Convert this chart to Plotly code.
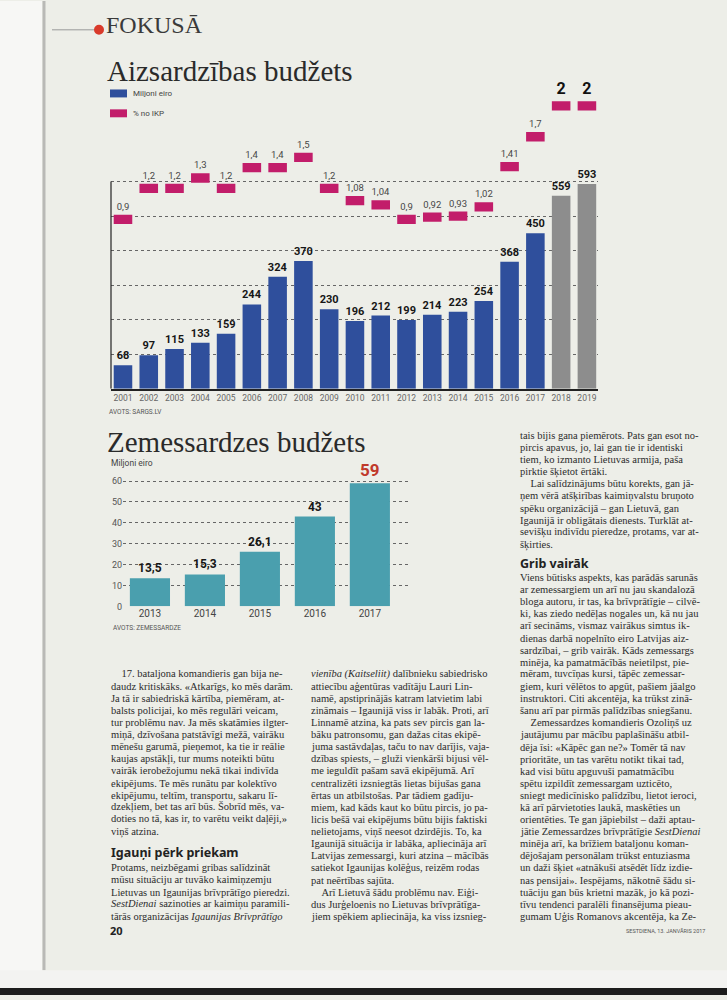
import plotly.graph_objects as go

# ---------------- data ----------------
years = ["2001", "2002", "2003", "2004", "2005", "2006", "2007", "2008", "2009", "2010",
         "2011", "2012", "2013", "2014", "2015", "2016", "2017", "2018", "2019"]
budget_meur = [68, 97, 115, 133, 159, 244, 324, 370, 230, 196, 212, 199, 214, 223, 254, 368, 450, 559, 593]
gdp_pct = [0.9, 1.2, 1.2, 1.3, 1.2, 1.4, 1.4, 1.5, 1.2, 1.08, 1.04, 0.9, 0.92, 0.93, 1.02, 1.41, 1.7, 2, 2]
planned_years = ["2018", "2019"]

zs_years = ["2013", "2014", "2015", "2016", "2017"]
zs_budget = [13.5, 15.3, 26.1, 43, 59]

W, H = 727, 1000


def px(x):
    return x / W


def py(y):
    return 1 - y / H


def lv(v):
    return f"{v:g}".replace(".", ",")


BLUE = "#2f4f9c"
GREY = "#8d8d8d"
PINK = "#c21d6a"
TEAL = "#4a9fae"
PAGE = "#edeee8"

fig = go.Figure()

# --- top chart: budget bars ---
fig.add_trace(go.Bar(
    x=years, y=budget_meur, width=0.72,
    marker=dict(color=[GREY if y in planned_years else BLUE for y in years], line=dict(width=0)),
    text=[str(v) for v in budget_meur], textposition="outside", constraintext="none",
    outsidetextfont=dict(family="Roboto", size=11, color="#161616", weight="bold"),
    cliponaxis=False, xaxis="x", yaxis="y", showlegend=False, hoverinfo="x+y",
))

# --- top chart: % of GDP markers (small rectangles centred on the value) ---
mh = 0.09
fig.add_trace(go.Bar(
    x=years, y=[mh] * len(gdp_pct), base=[v - mh / 2 for v in gdp_pct], width=0.72,
    marker=dict(color=PINK, line=dict(width=0)),
    text=[lv(v) for v in gdp_pct], textposition="outside", constraintext="none",
    outsidetextfont=dict(family="Roboto",
                         size=[16 if v >= 2 else 9.5 for v in gdp_pct],
                         color=["#111" if v >= 2 else "#474747" for v in gdp_pct],
                         weight=["bold" if v >= 2 else "normal" for v in gdp_pct]),
    cliponaxis=False, xaxis="x", yaxis="y2", showlegend=False,
    customdata=gdp_pct, hovertemplate="%{x}: %{customdata}%<extra></extra>",
))

# --- bottom chart ---
fig.add_trace(go.Bar(
    x=zs_years, y=zs_budget, width=0.73,
    marker=dict(color=TEAL, line=dict(width=0)),
    text=[lv(v) for v in zs_budget], textposition="outside", constraintext="none",
    outsidetextfont=dict(family="Roboto",
                         size=[12, 12, 12, 12, 17],
                         color=["#161616"] * 4 + ["#c0392b"], weight="bold"),
    cliponaxis=False, xaxis="x2", yaxis="y3", showlegend=False,
))

top_x0, top_x1 = 111, 598
fig.update_layout(
    width=W, height=H,
    margin=dict(l=0, r=0, t=0, b=0),
    paper_bgcolor=PAGE, plot_bgcolor="rgba(0,0,0,0)",
    barmode="overlay",
    xaxis=dict(domain=[px(top_x0), px(top_x1)], type="category", range=[-0.465, 18.43],
               showline=True, linecolor="#222", linewidth=1.5, ticks="", showgrid=False,
               tickfont=dict(family="Roboto", size=8.5, color="#666"),
               anchor="y", fixedrange=True),
    yaxis=dict(domain=[py(390), py(80)], range=[0, 600 * 310 / 208.3],
               tickvals=[100, 200, 300, 400, 500, 600], showticklabels=False,
               showgrid=True, gridcolor="#666", griddash="dot", gridwidth=1,
               zeroline=False, showline=False, fixedrange=True),
    yaxis2=dict(overlaying="y", range=[-0.742, 2.245], visible=False, fixedrange=True),
    xaxis2=dict(domain=[px(123), px(410)], type="category", range=[-0.49, 4.73],
                showline=False, ticks="", showgrid=False, anchor="y3",
                tickfont=dict(family="Roboto", size=10, color="#444"), fixedrange=True),
    yaxis3=dict(domain=[py(609), py(478.8)], range=[0, 62], anchor="x2",
                tickvals=[0, 10, 20, 30, 40, 50, 60], ticks="",
                tickfont=dict(family="Roboto", size=9, color="#555"),
                showgrid=True, gridcolor="#666", griddash="dot", gridwidth=1,
                zeroline=False, showline=False, fixedrange=True),
    font=dict(family="Roboto"),
)

shapes = []
# page edge on the left
shapes.append(dict(type="rect", xref="paper", yref="paper", x0=0, x1=px(42), y0=0, y1=1,
                   fillcolor="#f7f7f5", line=dict(width=0), layer="below"))
shapes.append(dict(type="line", xref="paper", yref="paper", x0=px(44), x1=px(44), y0=py(975), y1=1,
                   line=dict(color="#b9b9b6", width=3), layer="below"))
# bottom of scan
shapes.append(dict(type="rect", xref="paper", yref="paper", x0=0, x1=1, y0=0, y1=py(975),
                   fillcolor="#f3f3f1", line=dict(width=0), layer="below"))
shapes.append(dict(type="rect", xref="paper", yref="paper", x0=0, x1=1, y0=0, y1=py(993),
                   fillcolor="#1c1c1c", line=dict(width=0), layer="below"))
# header line + red dot
shapes.append(dict(type="line", xref="paper", yref="paper", x0=px(52), x1=px(95), y0=py(29), y1=py(29),
                   line=dict(color="#9a9a9a", width=1)))
shapes.append(dict(type="circle", xref="paper", yref="paper", x0=px(94), x1=px(104), y0=py(34), y1=py(24),
                   fillcolor="#d93a2b", line=dict(width=0)))
# top chart vertical axis line (0 .. 600)
shapes.append(dict(type="line", xref="paper", yref="y", x0=px(top_x0), x1=px(top_x0), y0=0, y1=600,
                   line=dict(color="#222", width=1.2)))
# legend swatches
shapes.append(dict(type="rect", xref="paper", yref="paper", x0=px(110), x1=px(127), y0=py(97), y1=py(89),
                   fillcolor=BLUE, line=dict(width=0)))
shapes.append(dict(type="rect", xref="paper", yref="paper", x0=px(110), x1=px(127), y0=py(117), y1=py(109),
                   fillcolor=PINK, line=dict(width=0)))
fig.update_layout(shapes=shapes)

ann = []


def text(x, y, s, size, color="#333", family="Roboto", xanchor="left", weight="normal"):
    ann.append(dict(xref="paper", yref="paper", x=px(x), y=py(y), text=s, showarrow=False,
                    xanchor=xanchor, yanchor="middle", align="left", borderpad=0,
                    font=dict(family=family, size=size, color=color, weight=weight)))


text(105, 24, "FOKUSĀ", 24, "#3a3a3a", "Liberation Serif")
text(106, 70, "Aizsardzības budžets", 29, "#2a2a2a", "Liberation Serif")
text(132, 93, "Miljoni eiro", 8, "#444")
text(132, 113, "% no IKP", 8, "#444")
text(108, 413, "AVOTS: SARGS.LV", 6.5, "#555")
text(106, 444, "Zemessardzes budžets", 29, "#2a2a2a", "Liberation Serif")
text(110, 465, "Miljoni eiro", 8.5, "#444")
text(112, 631, "AVOTS: ZEMESSARDZE", 6.5, "#555")

# ---------------- article text ----------------
col_left = [
    "    17. bataljona komandieris gan bija ne-",
    "daudz kritiskāks. «Atkarīgs, ko mēs darām.",
    "Ja tā ir sabiedriskā kārtība, piemēram, at-",
    "balsts policijai, ko mēs regulāri veicam,",
    "tur problēmu nav. Ja mēs skatāmies ilgter-",
    "miņā, dzīvošana patstāvīgi mežā, vairāku",
    "mēnešu garumā, pieņemot, ka tie ir reālie",
    "kaujas apstākļi, tur mums noteikti būtu",
    "vairāk ierobežojumu nekā tikai indivīda",
    "ekipējums. Te mēs runātu par kolektīvo",
    "ekipējumu, teltīm, transportu, sakaru lī-",
    "dzekļiem, bet tas arī būs. Šobrīd mēs, va-",
    "doties no tā, kas ir, to varētu veikt daļēji,»",
    "viņš atzina.",
]
col_left2 = [
    "Protams, neizbēgami gribas salīdzināt",
    "mūsu situāciju ar tuvāko kaimiņzemju",
    "Lietuvas un Igaunijas brīvprātīgo pieredzi.",
    "<i>SestDienai</i> sazinoties ar kaimiņu paramili-",
    "tārās organizācijas <i>Igaunijas Brīvprātīgo</i>",
]
col_mid = [
    "<i>vienība (Kaitseliit)</i> dalībnieku sabiedrisko",
    "attiecību aģentūras vadītāju Lauri Lin-",
    "namē, apstiprinājās katram latvietim labi",
    "zināmais – Igaunijā viss ir labāk. Proti, arī",
    "Linnamē atzina, ka pats sev pircis gan la-",
    "bāku patronsomu, gan dažas citas ekipē-",
    "juma sastāvdaļas, taču to nav darījis, vaja-",
    "dzības spiests, – gluži vienkārši bijusi vēl-",
    "me ieguldīt pašam savā ekipējumā. Arī",
    "centralizēti izsniegtās lietas bijušas gana",
    "ērtas un atbilstošas. Par tādiem gadīju-",
    "miem, kad kāds kaut ko būtu pircis, jo pa-",
    "licis bešā vai ekipējums būtu bijis faktiski",
    "nelietojams, viņš neesot dzirdējis. To, ka",
    "Igaunijā situācija ir labāka, apliecināja arī",
    "Latvijas zemessargi, kuri atzina – mācībās",
    "satiekot Igaunijas kolēģus, reizēm rodas",
    "pat neērtības sajūta.",
    "    Arī Lietuvā šādu problēmu nav. Eiģi-",
    "dus Jurģeloenis no Lietuvas brīvprātīga-",
    "jiem spēkiem apliecināja, ka viss izsnieg-",
]
col_right = [
    "tais bijis gana piemērots. Pats gan esot no-",
    "pircis apavus, jo, lai gan tie ir identiski",
    "tiem, ko izmanto Lietuvas armija, paša",
    "pirktie šķietot ērtāki.",
    "    Lai salīdzinājums būtu korekts, gan jā-",
    "ņem vērā atšķirības kaimiņvalstu bruņoto",
    "spēku organizācijā – gan Lietuvā, gan",
    "Igaunijā ir obligātais dienests. Turklāt at-",
    "sevišķu indivīdu pieredze, protams, var at-",
    "šķirties.",
]
col_right2 = [
    "Viens būtisks aspekts, kas parādās sarunās",
    "ar zemessargiem un arī nu jau skandalozā",
    "bloga autoru, ir tas, ka brīvprātīgie – cilvē-",
    "ki, kas ziedo nedēļas nogales un, kā nu jau",
    "arī secināms, vismaz vairākus simtus ik-",
    "dienas darbā nopelnīto eiro Latvijas aiz-",
    "sardzībai, – grib vairāk. Kāds zemessargs",
    "minēja, ka pamatmācībās neietilpst, pie-",
    "mēram, tuvcīņas kursi, tāpēc zemessar-",
    "giem, kuri vēlētos to apgūt, pašiem jāalgo",
    "instruktori. Citi akcentēja, ka trūkst zinā-",
    "šanu arī par pirmās palīdzības sniegšanu.",
    "    Zemessardzes komandieris Ozoliņš uz",
    "jautājumu par mācību paplašināšu atbil-",
    "dēja īsi: «Kāpēc gan ne?» Tomēr tā nav",
    "prioritāte, un tas varētu notikt tikai tad,",
    "kad visi būtu apguvuši pamatmācību",
    "spētu izpildīt zemessargam uzticēto,",
    "sniegt medicīnisko palīdzību, lietot ieroci,",
    "kā arī pārvietoties laukā, maskēties un",
    "orientēties. Te gan jāpiebilst – daži aptau-",
    "jātie Zemessardzes brīvprātīgie <i>SestDienai</i>",
    "minēja arī, ka brīžiem bataljonu koman-",
    "dējošajam personālam trūkst entuziasma",
    "un daži šķiet «atnākuši atsēdēt līdz izdie-",
    "nas pensijai». Iespējams, nākotnē šādu si-",
    "tuāciju gan būs krietni mazāk, jo kā pozi-",
    "tīvu tendenci paralēli finansējuma pieau-",
    "gumam Uģis Romanovs akcentēja, ka Ze-",
]

BODY = dict(size=10.5, color="#2c2c2c", family="Liberation Serif")


def column(lines, x, y0, lh):
    for i, s in enumerate(lines):
        text(x, y0 + i * lh, s.replace("    ", "&nbsp;&nbsp;&nbsp;&nbsp;"), **BODY)


column(col_left, 110, 677, 12.2)
text(110, 857, "Igauņi pērk priekam", 12.5, "#222", "Noto Sans", weight="bold")
column(col_left2, 110, 872, 12.25)
column(col_mid, 310, 677, 12.2)
column(col_right, 519, 437, 12.2)
text(519, 566, "Grib vairāk", 12.5, "#222", "Noto Sans", weight="bold")
column(col_right2, 519, 580, 12.18)

text(109, 935, "20", 11, "#222", "Noto Sans", weight="bold")
text(706, 936, "SESTDIENA, 13. JANVĀRIS 2017", 5.5, "#555", xanchor="right")

fig.update_layout(annotations=ann)

fig.write_html("out.html", config={"displayModeBar": False},
               post_script="document.body.style.margin='0';document.body.style.overflow='hidden';")
